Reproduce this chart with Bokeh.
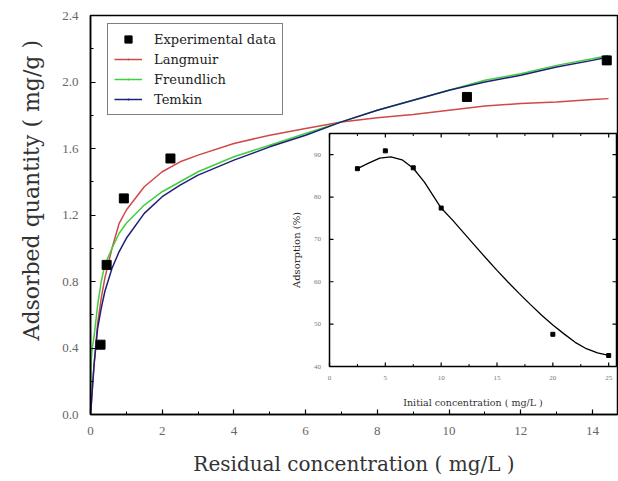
import math
from bokeh.plotting import figure
from bokeh.models import Range1d, Legend, LegendItem, FixedTicker, ColumnDataSource, Title
from bokeh.embed import file_html
from bokeh.resources import INLINE
from bokeh.core.properties import value

# ---------------- data (main plot) ----------------
exp_c = [0.28, 0.45, 0.93, 2.23, 10.5, 14.4]
exp_q = [0.42, 0.90, 1.30, 1.54, 1.91, 2.13]

fit_c = [0, 0.02, 0.05, 0.1, 0.2, 0.3, 0.4, 0.6, 0.8, 1.0, 1.5, 2.0, 2.5, 3, 4, 5, 6, 7,
         8, 9, 10, 11, 12, 13, 14, 14.45]
langmuir = [0, 0.06, 0.15, 0.30, 0.55, 0.70, 0.82, 1.00, 1.15, 1.23, 1.37, 1.46, 1.52, 1.56,
            1.63, 1.68, 1.72, 1.76, 1.785, 1.805, 1.83, 1.855, 1.87, 1.88, 1.895, 1.90]
freundlich = [0, 0.32, 0.40, 0.47, 0.66, 0.80, 0.90, 1.00, 1.09, 1.15, 1.26, 1.34, 1.40, 1.46,
              1.55, 1.62, 1.69, 1.76, 1.83, 1.89, 1.95, 2.01, 2.05, 2.10, 2.14, 2.16]
temkin = [0, 0.05, 0.15, 0.30, 0.52, 0.64, 0.74, 0.88, 0.98, 1.06, 1.21, 1.31, 1.38, 1.44,
          1.53, 1.61, 1.68, 1.76, 1.83, 1.89, 1.95, 2.00, 2.04, 2.09, 2.13, 2.15]

x_ticks = [0, 2, 4, 6, 8, 10, 12, 14]
y_ticks = [0.0, 0.4, 0.8, 1.2, 1.6, 2.0, 2.4]

# ---------------- data (inset) ----------------
ini_c = [2.5, 5, 7.5, 10, 20, 25]
ads_pct = [86.7, 90.9, 86.9, 77.4, 47.6, 42.6]
curve_c = [2.5, 3.5, 4.5, 5.5, 6.5, 7.5, 8.5, 10, 11, 12, 13, 14, 15, 16, 17, 18, 19, 20,
           21, 22, 23, 24, 25]
curve_pct = [86.7, 88.0, 89.2, 89.5, 88.8, 86.8, 83.5, 77.4, 74.6, 71.6, 68.6, 65.6, 62.7,
             59.9, 57.2, 54.6, 52.1, 49.8, 47.7, 45.7, 44.2, 43.2, 42.6]
in_x_ticks = [0, 5, 10, 15, 20, 25]
in_x_minor = [2.5, 7.5, 12.5, 17.5, 22.5]
in_y_ticks = [40, 50, 60, 70, 80, 90]

RED = "#d04848"
GREEN = "#3fcf3f"
BLUE = "#1f1f78"
SERIF = "DejaVu Serif"
NAN = float("nan")

# ---------------- geometry ----------------
W, H = 618, 478
BL, BR, BT, BB = 90, 1, 15, 64
X0, X1 = 0, 14.70
Y0, Y1 = 0, 2.4

p = figure(width=W, height=H, output_backend="svg", toolbar_location=None,
           x_range=Range1d(X0, X1), y_range=Range1d(Y0, Y1),
           min_border_left=BL, min_border_right=BR, min_border_top=BT, min_border_bottom=BB)
p.xgrid.visible = False
p.ygrid.visible = False
p.outline_line_color = "black"
p.outline_line_width = 1.5
p.background_fill_color = "white"

# main axes
p.xaxis.ticker = FixedTicker(ticks=x_ticks, minor_ticks=[t + 1 for t in x_ticks[:-1]])
p.yaxis.ticker = FixedTicker(ticks=y_ticks, minor_ticks=[round(t + 0.2, 1) for t in y_ticks[:-1]])
p.yaxis.major_label_overrides = {t: f"{t:.1f}" for t in y_ticks}
p.xaxis.axis_label = "Residual concentration\u00a0(\u00a0mg/L\u00a0)"
for ax in (p.xaxis[0], p.yaxis[0]):
    ax.axis_line_width = 1.5
    ax.axis_line_color = "black"
    ax.major_tick_in = 5
    ax.major_tick_out = 0
    ax.minor_tick_in = 3
    ax.minor_tick_out = 0
    ax.major_tick_line_width = 1.2
    ax.major_label_text_font = "Liberation Serif"
    ax.major_label_text_font_size = "13px"
    ax.major_label_text_color = "#666666"
    ax.axis_label_text_font = SERIF
    ax.axis_label_text_font_style = "normal"
    ax.axis_label_text_font_size = "20px"
    ax.axis_label_text_color = "#333333"
p.xaxis.major_label_standoff = 12
p.xaxis.axis_label_standoff = 14
p.yaxis.major_label_standoff = 12

# y-axis title as a side title (sits above centre, as in the original)
ytitle = Title(text="Adsorbed quantity ( mg/g )", align="left", offset=74,
               text_font=SERIF, text_font_size="22px", text_color="#333333",
               text_font_style="normal", standoff=31)
p.add_layout(ytitle, "left")

# main curves
lr = p.line(fit_c, langmuir, color=RED, line_width=1.5)
fr = p.line(fit_c, freundlich, color=GREEN, line_width=1.5)
tr = p.line(fit_c, temkin, color=BLUE, line_width=1.5)
er = p.scatter(exp_c, exp_q, marker="square", size=9, color="black")

# legend-only marker glyphs (no visible data)
empty = ColumnDataSource(data=dict(x=[NAN], y=[NAN]))
lm = p.scatter("x", "y", source=empty, marker="dot", size=3, color=RED, line_width=2)
fm = p.scatter("x", "y", source=empty, marker="dot", size=3, color=GREEN, line_width=2)
tm = p.scatter("x", "y", source=empty, marker="dot", size=3, color=BLUE, line_width=2)
em = p.scatter("x", "y", source=empty, marker="square", size=7, color="black")

legend = Legend(items=[
    LegendItem(label="Experimental data", renderers=[em]),
    LegendItem(label="Langmuir", renderers=[lr, lm]),
    LegendItem(label="Freundlich", renderers=[fr, fm]),
    LegendItem(label="Temkin", renderers=[tr, tm]),
], location=(17, 299))
legend.border_line_color = "black"
legend.border_line_width = 1.5
legend.background_fill_color = "white"
legend.background_fill_alpha = 1
legend.label_text_font = SERIF
legend.label_text_font_size = "13px"
legend.label_text_color = "#222222"
legend.glyph_width = 28
legend.glyph_height = 18
legend.label_height = 18
legend.label_standoff = 12
legend.padding = 6
legend.spacing = 2
legend.margin = 0
p.add_layout(legend)

# ---------------- inset (drawn on extra ranges) ----------------
FL, FR, FT, FB = BL, W - BR, BT, H - BB
IL, IR, IT, IB = 329, 616, 133, 366
IX0, IX1 = 0, 25.7
IY0, IY1 = 40, 95
sx = (IX1 - IX0) / (IR - IL)
sy = (IY1 - IY0) / (IB - IT)
p.extra_x_ranges = {"ix": Range1d(IX0 - (IL - FL) * sx, IX1 + (FR - IR) * sx)}
p.extra_y_ranges = {"iy": Range1d(IY0 - (FB - IB) * sy, IY1 + (IT - FT) * sy)}
kw = dict(x_range_name="ix", y_range_name="iy")

p.quad(left=[IX0], right=[IX1], bottom=[IY0], top=[IY1], fill_color="white",
       line_color="black", line_width=1.5, **kw)

tx, ty = 4 * sx, 4 * sy
mty = 2.5 * sy
p.segment(x0=in_x_ticks, y0=[IY0] * 6, x1=in_x_ticks, y1=[IY0 + ty] * 6,
          line_color="black", line_width=1.2, **kw)
p.segment(x0=in_x_ticks, y0=[IY1] * 6, x1=in_x_ticks, y1=[IY1 - ty] * 6,
          line_color="black", line_width=1.2, **kw)
p.segment(x0=in_x_minor, y0=[IY1] * 5, x1=in_x_minor, y1=[IY1 - mty] * 5,
          line_color="black", line_width=1, **kw)
p.segment(x0=in_x_minor, y0=[IY0] * 5, x1=in_x_minor, y1=[IY0 + mty] * 5,
          line_color="black", line_width=1, **kw)
p.segment(x0=[IX0] * 6, y0=in_y_ticks, x1=[IX0 + tx] * 6, y1=in_y_ticks,
          line_color="black", line_width=1.2, **kw)
p.segment(x0=[IX1] * 6, y0=in_y_ticks, x1=[IX1 - tx] * 6, y1=in_y_ticks,
          line_color="black", line_width=1.2, **kw)

p.text(x=in_x_ticks, y=[IY0 - 11 * sy] * 6, text=[str(t) for t in in_x_ticks],
       text_font=value("Liberation Serif"), text_font_size="7px", text_color="#777777",
       text_align="center", text_baseline="middle", **kw)
p.text(x=[IX0 - 12 * sx] * 6, y=in_y_ticks, text=[str(t) for t in in_y_ticks],
       text_font=value("Liberation Serif"), text_font_size="7px", text_color="#777777",
       text_align="center", text_baseline="middle", **kw)
p.text(x=[(IX0 + IX1) / 2], y=[IY0 - 36 * sy], text=["Initial concentration ( mg/L )"],
       text_font=value(SERIF), text_font_size="9.5px", text_color="#333333",
       text_align="center", text_baseline="middle", **kw)
p.text(x=[IX0 - 33 * sx], y=[(IY0 + IY1) / 2], text=["Adsorption (%)"], angle=math.pi / 2,
       text_font=value(SERIF), text_font_size="10px", text_color="#222222",
       text_align="center", text_baseline="middle", **kw)

p.line(curve_c, curve_pct, color="black", line_width=1.3, **kw)
p.scatter(ini_c, ads_pct, marker="square", size=4, color="black", **kw)

open("out.html", "w").write(file_html(p, INLINE))
